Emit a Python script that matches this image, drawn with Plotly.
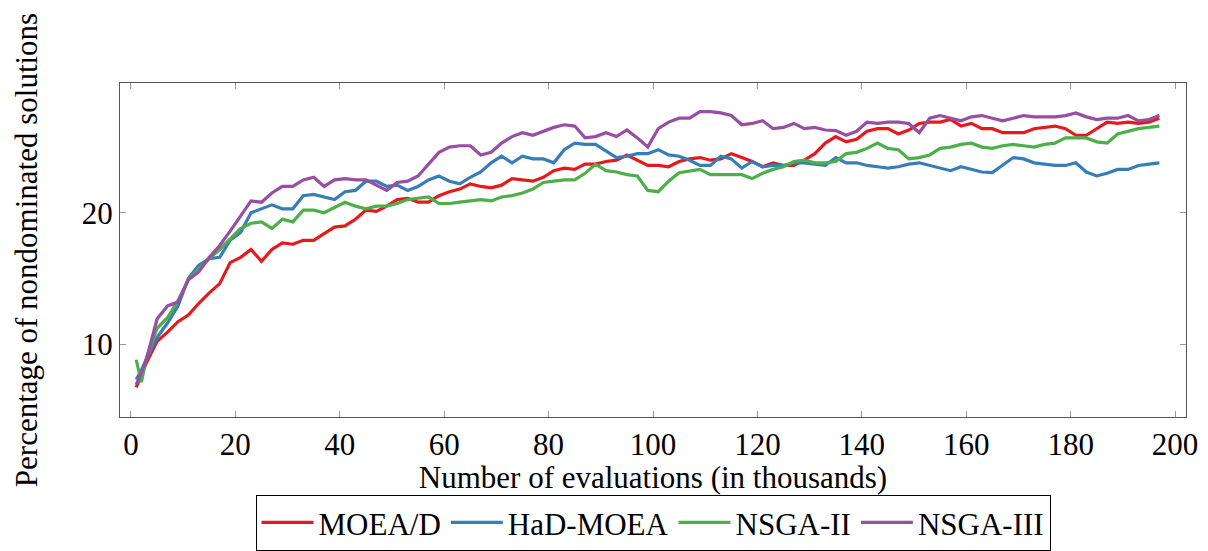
import plotly.graph_objects as go

x_vals = [1, 2] + list(range(3, 199, 2))

moead = [6.7, 7.6,
         8.6, 10.2, 10.9, 11.7, 12.2, 13.1, 13.9, 14.6, 16.2, 16.6,
         17.2, 16.3, 17.2, 17.7, 17.6, 17.9, 17.9, 18.4, 18.9, 19.0,
         19.5, 20.2, 20.1, 20.5, 21.0, 21.1, 20.8, 20.8, 21.3, 21.6,
         21.8, 22.2, 22.0, 21.9, 22.1, 22.6, 22.5, 22.4, 22.7, 23.2,
         23.4, 23.3, 23.7, 23.7, 23.9, 24.0, 24.4, 24.0, 23.6, 23.6,
         23.5, 23.9, 24.1, 24.2, 24.0, 24.1, 24.5, 24.2, 23.9, 23.5,
         23.8, 23.6, 23.6, 24.0, 24.5, 25.3, 25.8, 25.4, 25.6, 26.2,
         26.4, 26.4, 26.0, 26.3, 26.8, 26.9, 26.9, 27.1, 26.6, 26.8,
         26.4, 26.4, 26.1, 26.1, 26.1, 26.4, 26.5, 26.6, 26.4, 25.9,
         25.9, 26.4, 26.9, 26.8, 26.9, 26.8, 26.9, 27.2]

had_moea = [7.3, 8.0,
            8.9, 10.5, 11.6, 12.9, 15.0, 16.0, 16.5, 16.6, 17.9, 18.5,
            20.0, 20.3, 20.6, 20.3, 20.3, 21.3, 21.4, 21.2, 21.0, 21.6,
            21.7, 22.4, 22.4, 22.0, 22.1, 21.7, 22.0, 22.5, 22.8, 22.4,
            22.2, 22.7, 23.1, 23.8, 24.3, 23.8, 24.3, 24.1, 24.1, 23.8,
            24.8, 25.3, 25.2, 25.2, 24.7, 24.2, 24.3, 24.5, 24.5, 24.8,
            24.4, 24.3, 24.0, 23.6, 23.6, 24.3, 24.1, 23.4, 23.9, 23.5,
            23.6, 23.6, 23.8, 23.8, 23.7, 23.6, 24.2, 23.8, 23.8, 23.6,
            23.5, 23.4, 23.5, 23.7, 23.8, 23.6, 23.4, 23.2, 23.5, 23.3,
            23.1, 23.05, 23.6, 24.2, 24.1, 23.8, 23.7, 23.6, 23.6, 23.8,
            23.1, 22.8, 23.0, 23.3, 23.3, 23.6, 23.7, 23.8]

nsga2 = [8.8, 7.1,
         9.0, 11.2, 12.0, 13.3, 14.9, 15.7, 16.5, 17.2, 18.0, 18.8,
         19.2, 19.3, 18.8, 19.5, 19.3, 20.2, 20.2, 20.0, 20.4, 20.8,
         20.5, 20.3, 20.5, 20.5, 20.7, 21.0, 21.1, 21.2, 20.7, 20.7,
         20.8, 20.9, 21.0, 20.9, 21.2, 21.3, 21.5, 21.8, 22.3, 22.4,
         22.5, 22.5, 23.0, 23.7, 23.2, 23.1, 22.9, 22.8, 21.7, 21.6,
         22.4, 23.05, 23.2, 23.3, 22.9, 22.9, 22.9, 22.9, 22.6, 23.0,
         23.3, 23.5, 23.9, 24.0, 23.8, 23.8, 23.9, 24.5, 24.6, 24.9,
         25.3, 24.9, 24.8, 24.1, 24.2, 24.4, 24.9, 25.0, 25.2, 25.3,
         25.0, 24.9, 25.1, 25.2, 25.1, 25.0, 25.2, 25.3, 25.7, 25.7,
         25.7, 25.4, 25.3, 26.0, 26.2, 26.4, 26.5, 26.6]

nsga3 = [6.9, 7.8,
         8.9, 11.9, 12.9, 13.2, 14.9, 15.5, 16.6, 17.5, 18.6, 19.7,
         20.9, 20.8, 21.5, 22.0, 22.0, 22.5, 22.7, 22.0, 22.5, 22.6,
         22.5, 22.5, 22.1, 21.7, 22.3, 22.4, 22.8, 23.7, 24.6, 25.0,
         25.1, 25.1, 24.4, 24.6, 25.3, 25.8, 26.1, 25.9, 26.2, 26.5,
         26.7, 26.6, 25.7, 25.8, 26.1, 25.8, 26.3, 25.7, 25.0, 26.4,
         26.9, 27.2, 27.2, 27.7, 27.7, 27.6, 27.4, 26.7, 26.8, 27.0,
         26.4, 26.5, 26.8, 26.4, 26.5, 26.3, 26.25, 25.9, 26.2, 26.9,
         26.8, 26.9, 26.9, 26.8, 26.1, 27.2, 27.4, 27.2, 27.0, 27.3,
         27.4, 27.2, 27.0, 27.2, 27.4, 27.3, 27.3, 27.3, 27.4, 27.6,
         27.3, 27.1, 27.2, 27.2, 27.4, 27.0, 27.1, 27.4]

series_names = ["MOEA/D", "HaD-MOEA", "NSGA-II", "NSGA-III"]
series_data = [moead, had_moea, nsga2, nsga3]
colors = ["#e41a1c", "#377eb8", "#4daf4a", "#984ea3"]

x_ticks = list(range(0, 201, 20))
y_ticks = [10, 20]

FONT = "Liberation Serif"
FS = 31

fig = go.Figure()
for name, ys, c in zip(series_names, series_data, colors):
    fig.add_trace(go.Scatter(x=x_vals, y=ys, mode="lines", name=name,
                             line=dict(color=c, width=3.2)))

fig.update_layout(
    width=1208, height=551,
    margin=dict(l=120, r=22, t=83, b=134, autoexpand=False),
    paper_bgcolor="white", plot_bgcolor="white",
    font=dict(family=FONT, size=FS, color="black"),
    showlegend=True,
    legend=dict(orientation="h", x=0.5, xanchor="center",
                yref="container", y=0.102, yanchor="top",
                bordercolor="black", borderwidth=1, font=dict(family=FONT, size=FS),
                itemwidth=52, tracegroupgap=0),
)
fig.update_xaxes(range=[-2.1, 202.1], tickvals=x_ticks, showgrid=False, zeroline=False,
                 showline=True, linecolor="#555", linewidth=1, mirror="ticks",
                 ticks="inside", ticklen=6, tickcolor="#999",
                 tickfont=dict(family=FONT, size=FS),
                 title=dict(text="Number of evaluations (in thousands)", standoff=9,
                            font=dict(family=FONT, size=FS)))
fig.update_yaxes(range=[4.44, 29.88], tickvals=y_ticks, showgrid=False, zeroline=False,
                 showline=True, linecolor="#555", linewidth=1, mirror="ticks",
                 ticks="inside", ticklen=6, tickcolor="#999",
                 tickfont=dict(family=FONT, size=FS),
                 title=dict(text="Percentage of nondominated solutions", standoff=34,
                            font=dict(family=FONT, size=FS)))

fig.write_html("out.html")
